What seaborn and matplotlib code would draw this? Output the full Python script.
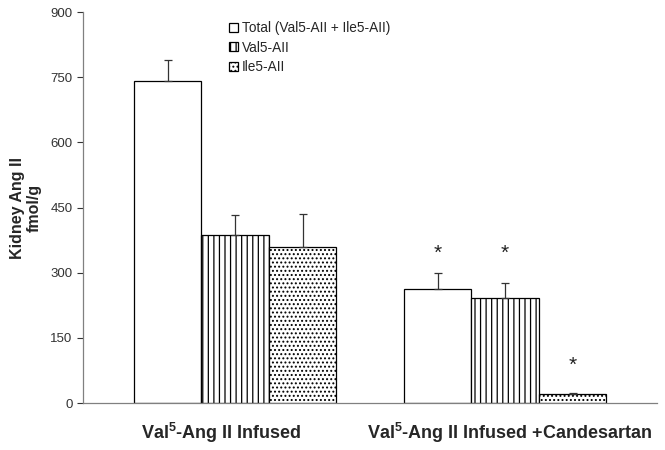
import numpy as np
import pandas as pd
import matplotlib
matplotlib.use("Agg")
import matplotlib.pyplot as plt
import matplotlib.transforms as mtransforms
import seaborn as sns
from matplotlib.patches import Patch

# values
groups = [r"Val$^{\mathbf{5}}$-Ang II Infused",
          r"Val$^{\mathbf{5}}$-Ang II Infused +Candesartan"]
series = ["Total (Val5-AII + Ile5-AII)", "Val5-AII", "Ile5-AII"]
total_vals = [742, 262]
val5_vals = [386, 242]
ile5_vals = [359, 21]
total_err = [48, 37]
val5_err = [46, 34]
ile5_err = [76, 3]
# significance marks: (series index, group index, y level)
stars = [(0, 1, 345), (1, 1, 345), (2, 1, 87)]
hatches = ["", "|||", "...."]

sns.set_style("white")
plt.rcParams["font.family"] = ["Liberation Sans", "DejaVu Sans"]
plt.rcParams["mathtext.fontset"] = "custom"
plt.rcParams["mathtext.bf"] = "Liberation Sans:bold"
plt.rcParams["mathtext.rm"] = "Liberation Sans:bold"
plt.rcParams["hatch.linewidth"] = 0.9

df = pd.DataFrame({
    "group": groups * 3,
    "series": np.repeat(series, 2),
    "value": total_vals + val5_vals + ile5_vals,
    "err": total_err + val5_err + ile5_err,
})

fig = plt.figure(figsize=(6.65, 4.5), dpi=100)
ax = fig.add_axes([0.1248, 0.1044, 0.8632, 0.8689])

sns.barplot(data=df, x="group", y="value", hue="series", order=groups,
            hue_order=series, width=0.75, errorbar=None,
            palette=["white"] * 3, edgecolor="black", linewidth=0.9,
            legend=False, ax=ax)

# hatch and error bars, per series
bar_conts = list(ax.containers)
for i, cont in enumerate(bar_conts):
    sub = df[df["series"] == series[i]]
    for j, bar in enumerate(cont):
        bar.set_hatch(hatches[i])
        x = bar.get_x() + bar.get_width() / 2
        h = bar.get_height()
        e = sub["err"].iloc[j]
        ax.errorbar(x, h, yerr=[[0], [e]], color="#333333", lw=0.9,
                    capsize=3, capthick=0.9)

for i, j, y in stars:
    bar = bar_conts[i][j]
    ax.text(bar.get_x() + bar.get_width() / 2, y, "*", ha="center",
            va="center", fontsize=15, color="#222222")

ax.set_xlim(-0.563, 1.563)
ax.set_ylim(0, 900)
ax.set_yticks([0, 150, 300, 450, 600, 750, 900])
ax.tick_params(axis="y", labelsize=9.5, colors="#333333", length=4,
               width=0.8, direction="out", left=True)
ax.tick_params(axis="x", length=0, labelsize=13, pad=13)
shifts = [-14, 5]
for lab, dx in zip(ax.get_xticklabels(), shifts):
    lab.set_fontweight("bold")
    lab.set_transform(lab.get_transform() + mtransforms.ScaledTranslation(
        dx / 100, 0, fig.dpi_scale_trans))
ax.set_xlabel("")
ax.set_ylabel("Kidney Ang II\nfmol/g", fontsize=11.5, fontweight="bold",
              labelpad=6)

for s in ["top", "right"]:
    ax.spines[s].set_visible(False)
for s in ["left", "bottom"]:
    ax.spines[s].set_color("#808080")
    ax.spines[s].set_linewidth(0.9)

handles = [Patch(facecolor="white", edgecolor="black", hatch=h, lw=0.9)
           for h in hatches]
ax.legend(handles, series, loc="upper left", bbox_to_anchor=(0.2325, 1.008),
          frameon=False, fontsize=9.8, handlelength=0.65, handleheight=0.65,
          handletextpad=0.3, labelspacing=0.4)

fig.savefig("out.png", dpi=100)
